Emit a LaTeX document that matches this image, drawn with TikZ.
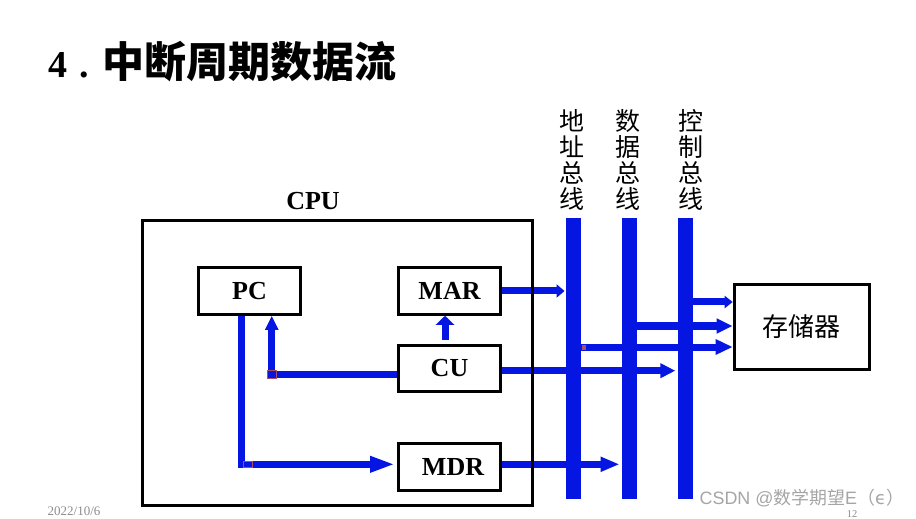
\documentclass[tikz,border=0pt]{standalone}
\usepackage{fontspec}
\setmainfont{Liberation Serif}
\newfontfamily\cjk{Noto Sans CJK SC}
\newfontfamily\wmsans{Liberation Sans}
\newfontfamily\djv{DejaVu Sans}
\usetikzlibrary{arrows.meta,backgrounds}
\definecolor{busblue}{RGB}{6,22,226}
\definecolor{cornerred}{RGB}{170,80,100}
\definecolor{footgray}{RGB}{140,140,140}
\definecolor{wmgray}{RGB}{165,165,165}
\begin{document}
\begin{tikzpicture}[x=1bp,y=-1bp,
  reg/.style={draw=black,line width=3bp,minimum width=102bp,minimum height=46.5bp,inner sep=0pt,
    font=\fontsize{26bp}{28bp}\selectfont\bfseries},
  flow/.style={draw=busblue,line width=7bp},
  bus/.style={fill=busblue,draw=none,minimum width=15.5bp,minimum height=280.7bp,inner sep=0pt},
  buslabel/.style={align=center,inner sep=0pt,font=\cjk\fontsize{25bp}{26bp}\selectfont},
  corner/.style={draw=cornerred,line width=0.9bp,fill=busblue},
]
\useasboundingbox (0,0) rectangle (916,519);

% title
\node[anchor=base west,inner sep=0pt,font=\fontsize{38bp}{40bp}\selectfont\bfseries] (t4) at (48,77.3) {4};
\node[anchor=base west,inner sep=0pt,font=\fontsize{38bp}{40bp}\selectfont\bfseries] (tdot) at (79.5,77.3) {.};
\node[anchor=base west,inner sep=0pt,font=\cjk\bfseries\fontsize{42bp}{44bp}\selectfont] (tcn) at (102.5,77.3) {中断周期数据流};

% CPU
\node[anchor=base,inner sep=0pt,font=\fontsize{26bp}{28bp}\selectfont\bfseries] (cpulabel) at (313,209.3) {CPU};
\node[draw=black,line width=3bp,minimum width=390bp,minimum height=285bp,inner sep=0pt] (cpu) at (337.5,363) {};

\node[reg] (pc) at (249.5,291) {PC};
\node[reg] (mar) at (449.5,291) {MAR};
\node[reg] (cu) at (449.5,368.3) {CU};
\node[reg] (mdr) at (449.5,466.8) {\hspace*{7bp}MDR};

% memory
\node[draw=black,line width=3bp,minimum width=135bp,minimum height=85.3bp,inner sep=0pt,
  font=\cjk\fontsize{26bp}{28bp}\selectfont] (mem) at (801.7,326.8) {存储器};

% buses
\node[bus] (abus) at (573.5,358.7) {};
\node[bus] (dbus) at (629.5,358.7) {};
\node[bus] (cbus) at (685.3,358.7) {};
\node[buslabel] (albl) at (571.5,160) {地\\址\\总\\线};
\node[buslabel] (dlbl) at (627.5,160) {数\\据\\总\\线};
\node[buslabel] (clbl) at (691,160) {控\\制\\总\\线};

\coordinate (m1) at (0,302);
\coordinate (m2) at (0,326);
\coordinate (m3) at (0,347);
\coordinate (cuout) at (0,370.7);
\coordinate (mdrout) at (0,464.3);

\begin{scope}[on background layer]
  \draw[flow,-{Triangle[length=8bp,width=13bp]}] (mar.east) -- ([xshift=-1bp]abus.west |- mar.east);
  \draw[flow,-{Triangle[length=9bp,width=18bp]}] ([xshift=-4.5bp,yshift=4bp]cu.north) -- ([xshift=-4.5bp]mar.south);
  \draw[flow,-{Triangle[length=14bp,width=12.5bp]}] ([yshift=-6.4bp]cu.west) -| ([xshift=22.2bp]pc.south);
  \draw[flow,-{Triangle[length=25bp,width=15bp]}] ([xshift=-7.8bp]pc.south) |- ([xshift=-2bp]mdr.west |- mdrout);
  \draw[flow,-{Triangle[length=19bp,width=14bp]}] (mdr.east |- mdrout) -- ([xshift=-2bp]dbus.west |- mdrout);
  \draw[flow,-{Triangle[length=15bp,width=14bp]}] (cu.east |- cuout) -- ([xshift=-2bp]cbus.west |- cuout);
  \draw[flow,-{Triangle[length=8bp,width=12bp]}] (cbus.east |- m1) -- (mem.west |- m1);
  \draw[flow,-{Triangle[length=16bp,width=14bp]}] (dbus.east |- m2) -- (mem.west |- m2);
  \draw[flow,-{Triangle[length=17bp,width=14.5bp]}] (abus.east |- m3) -- (mem.west |- m3);
\end{scope}

% small corner marks
\draw[corner] (267.7,370.5) rectangle (276,378.7);
\draw[corner] (243.3,461) rectangle (252.7,467.3);
\fill[cornerred] (582,344.5) rectangle (586.3,349.5);

% footer
\node[anchor=base west,inner sep=0pt,text=footgray,font=\fontsize{13bp}{15bp}\selectfont] (date) at (47.5,515.5) {2022/10/6};
\node[anchor=base,inner sep=0pt,text=footgray,font=\fontsize{10.5bp}{12bp}\selectfont] (pageno) at (852,517) {12};
\node[anchor=base west,inner sep=0pt,text=wmgray,font=\fontsize{17.9bp}{19bp}\selectfont] (wm) at (699.5,504)
  {{\wmsans CSDN @}{\cjk 数学期望}{\wmsans E}{\cjk （}{\djv ϵ}{\cjk ）}};
\end{tikzpicture}
\end{document}
